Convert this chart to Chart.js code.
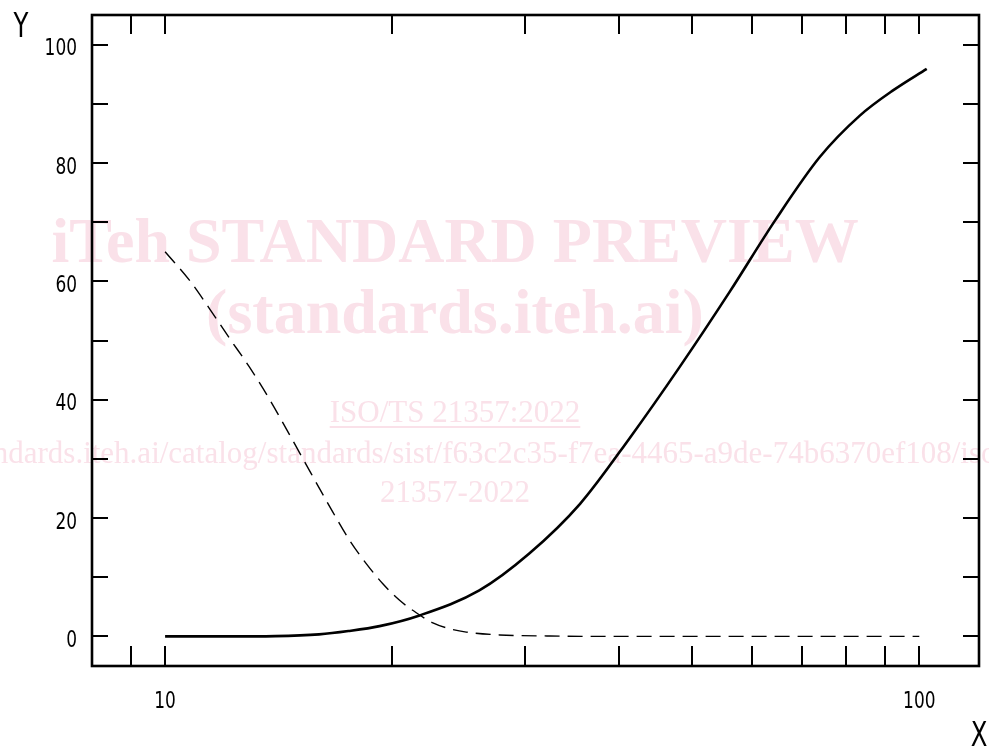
<!DOCTYPE html>
<html><head><meta charset="utf-8">
<script src="https://cdn.jsdelivr.net/npm/chart.js@4/dist/chart.umd.min.js"></script>
<style>html,body{margin:0;padding:0;background:#fff;overflow:hidden}#wrap{width:989px;height:747px;position:relative}</style>
</head><body><div id="wrap"><canvas id="c" width="989" height="747"></canvas></div>
<script>
// ---- data ----
const solidX  = [10, 12, 14, 16, 17.5, 19.25, 21.75, 26.1, 30.4, 35.5, 41.3, 48.1, 56.1, 64.4, 73.8, 83.4, 92.4, 102.3];
const solidY  = [0, 0, 0.05, 0.34, 0.9, 1.74, 3.55, 7.77, 14.0, 22.4, 33.5, 45.5, 58.3, 70.3, 81.0, 88.0, 92.3, 95.9];
const dashedX = [10, 10.77, 11.45, 12.17, 12.94, 13.75, 14.62, 15.22, 16.69, 17.57, 18.48, 19.44, 20.46, 21.53, 22.65, 23.84, 25.08, 27.77, 32.4, 37.7, 50, 70, 100];
const dashedY = [65, 60.2, 55.4, 50.4, 45.5, 40.1, 34.1, 30.1, 21.0, 16.2, 12.3, 8.9, 6.1, 4.0, 2.3, 1.3, 0.73, 0.25, 0.07, 0, 0, 0, 0];
const xTickValues = [9, 10, 20, 30, 40, 50, 60, 70, 80, 90, 100];
const xTickLabels = ['', '10', '', '', '', '', '', '', '', '', '100'];
const yTickValues = [0, 10, 20, 30, 40, 50, 60, 70, 80, 90, 100];
const yTickLabels = ['0', '', '20', '', '40', '', '60', '', '80', '', '100'];
const xTitle = 'X';
const yTitle = 'Y';
const watermarkLines = [
  'iTeh STANDARD PREVIEW',
  '(standards.iteh.ai)',
  'ISO/TS 21357:2022',
  'https://standards.iteh.ai/catalog/standards/sist/f63c2c35-f7ea-4465-a9de-74b6370ef108/iso-ts-',
  '21357-2022'
];

// ---- styling ----
const AX_FONT = "'DejaVu Sans Condensed', 'DejaVu Sans', sans-serif";
const AX_SCALE = 0.82;
const WM_COLOR = 'rgb(250,225,233)';
const wmStyle = [
  {font: "bold 64px 'Liberation Serif', serif", y: 262},
  {font: "bold 64px 'Liberation Serif', serif", y: 333},
  {font: "31px 'Liberation Serif', serif", y: 422, underline: true},
  {font: "31px 'Liberation Serif', serif", y: 463},
  {font: "31px 'Liberation Serif', serif", y: 502}
];

function scaledText(ctx, text, x, y, align, sx) {
  ctx.save();
  ctx.translate(x, y);
  ctx.scale(sx, 1);
  ctx.textAlign = align;
  ctx.textBaseline = 'alphabetic';
  ctx.fillText(text, 0, 0);
  ctx.restore();
}

const watermarkPlugin = {
  id: 'watermark',
  beforeDatasetsDraw(chart) {
    const ctx = chart.ctx;
    ctx.save();
    ctx.fillStyle = WM_COLOR;
    ctx.strokeStyle = WM_COLOR;
    ctx.textAlign = 'center';
    ctx.textBaseline = 'alphabetic';
    watermarkLines.forEach((t, i) => {
      const s = wmStyle[i];
      ctx.font = s.font;
      ctx.fillText(t, 455, s.y);
      if (s.underline) {
        const w = ctx.measureText(t).width;
        ctx.lineWidth = 2;
        ctx.beginPath();
        ctx.moveTo(455 - w / 2, s.y + 5);
        ctx.lineTo(455 + w / 2, s.y + 5);
        ctx.stroke();
      }
    });
    ctx.restore();
  }
};

const framePlugin = {
  id: 'frame',
  afterDraw(chart) {
    const ctx = chart.ctx;
    const a = chart.chartArea;
    const xs = chart.scales.x, ys = chart.scales.y;
    ctx.save();
    ctx.strokeStyle = '#000';
    ctx.lineWidth = 2;
    ctx.beginPath();
    xTickValues.forEach(v => {
      const px = Math.round(xs.getPixelForValue(v));
      ctx.moveTo(px, a.bottom); ctx.lineTo(px, a.bottom - 20);
      ctx.moveTo(px, a.top); ctx.lineTo(px, a.top + 19);
    });
    yTickValues.forEach(v => {
      const py = Math.round(ys.getPixelForValue(v));
      ctx.moveTo(a.left, py); ctx.lineTo(a.left + 16, py);
      ctx.moveTo(a.right, py); ctx.lineTo(a.right - 16, py);
    });
    ctx.stroke();
    ctx.lineWidth = 2.6;
    ctx.strokeRect(a.left, a.top, a.right - a.left, a.bottom - a.top);

    ctx.fillStyle = '#000';
    ctx.font = '23px ' + AX_FONT;
    xTickValues.forEach((v, i) => {
      if (!xTickLabels[i]) return;
      scaledText(ctx, xTickLabels[i], xs.getPixelForValue(v), a.bottom + 42, 'center', AX_SCALE);
    });
    yTickValues.forEach((v, i) => {
      if (!yTickLabels[i]) return;
      scaledText(ctx, yTickLabels[i], a.left - 15, ys.getPixelForValue(v) + 10.7, 'right', AX_SCALE);
    });
    ctx.font = '33px ' + AX_FONT;
    scaledText(ctx, yTitle, 21, 37, 'center', AX_SCALE);
    scaledText(ctx, xTitle, 979, 746, 'center', AX_SCALE);
    ctx.restore();
  }
};

new Chart(document.getElementById('c'), {
  type: 'line',
  data: {
    datasets: [
      {
        data: solidX.map((x, i) => ({x, y: solidY[i]})),
        borderColor: '#000', borderWidth: 2.6, pointRadius: 0,
        cubicInterpolationMode: 'monotone', fill: false
      },
      {
        data: dashedX.map((x, i) => ({x, y: dashedY[i]})),
        borderColor: '#000', borderWidth: 1.4, borderDash: [15, 8], pointRadius: 0,
        cubicInterpolationMode: 'monotone', fill: false
      }
    ]
  },
  options: {
    responsive: false, animation: false, devicePixelRatio: 1,
    layout: {padding: {top: 15, right: 10, left: 92, bottom: 81}},
    plugins: {legend: {display: false}, tooltip: {enabled: false}},
    scales: {
      x: {type: 'logarithmic', min: 8, max: 120, display: false},
      y: {type: 'linear', min: -5, max: 105, display: false}
    }
  },
  plugins: [watermarkPlugin, framePlugin]
});
</script>
</body></html>
